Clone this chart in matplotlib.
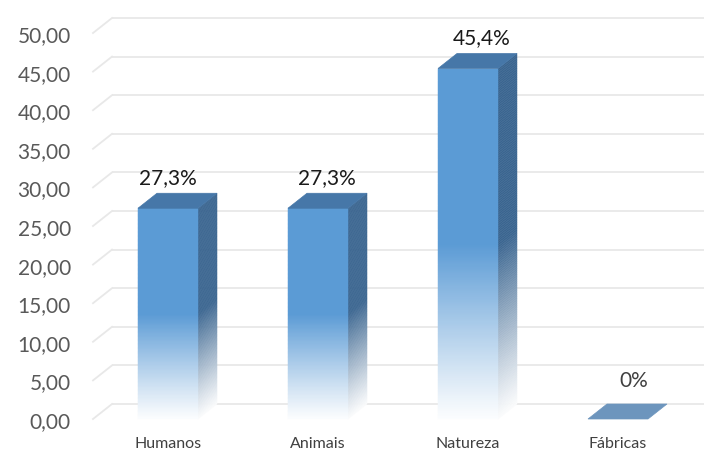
import numpy as np
import matplotlib
matplotlib.use("Agg")
import matplotlib.pyplot as plt
from matplotlib.patches import Polygon
from matplotlib.collections import PolyCollection
from matplotlib.colors import to_rgb

categories = ["Humanos", "Animais", "Natureza", "Fábricas"]
values = [27.3, 27.3, 45.4, 0.0]
value_labels = ["27,3%", "27,3%", "45,4%", "0%"]
yticks = [0, 5, 10, 15, 20, 25, 30, 35, 40, 45, 50]
ytick_labels = ["0,00", "5,00", "10,00", "15,00", "20,00", "25,00",
                "30,00", "35,00", "40,00", "45,00", "50,00"]

# style
plt.rcParams['font.family'] = ['Lato', 'DejaVu Sans']
W, H = 704, 452
front_col = np.array(to_rgb("#5b9bd5"))
side_col = np.array(to_rgb("#3a6590"))
top_col = np.array(to_rgb("#4677a8"))
zero_top_col = "#6d95bd"
white = np.array([1.0, 1.0, 1.0])
grid_col = "#e8e8e8"
depth_px = (19, 15)
bar_w = 0.4
label_off_px = [(0, 16), (9, 16), (14, 16), (16, 24)]
label_cols = ["#1a1a1a", "#1a1a1a", "#1a1a1a", "#404040"]

fig = plt.figure(figsize=(W / 100, H / 100), dpi=100)
ax = fig.add_axes([93 / W, (H - 420) / H, 600 / W, (420 - 34) / H])
ax.set_xlim(-0.5, len(categories) - 0.5)
ax.set_ylim(0, 50)
for s in ax.spines.values():
    s.set_visible(False)
ax.set_facecolor("none")

# depth offset in data units
p0 = ax.transData.transform((0, 0))
inv = ax.transData.inverted()
ox, oy = inv.transform(p0 + np.array(depth_px)) - inv.transform(p0)

# gridlines (back wall + floor slant)
xl, xr = ax.get_xlim()
for v in yticks:
    ax.plot([xl + ox, xr + ox + 1], [v + oy, v + oy], color=grid_col, lw=1.3,
            zorder=1, clip_on=False, solid_capstyle='butt')
    ax.plot([xl, xl + ox], [v, v + oy], color=grid_col, lw=1.3, zorder=1,
            clip_on=False)

def blend(c, t):
    return white * (1 - t) + c * t

N = 160
for i, v in enumerate(values):
    x0, x1 = i - bar_w / 2, i + bar_w / 2
    if v > 0:
        edges = np.linspace(0, v, N + 1)
        front_polys, side_polys, fcols, scols = [], [], [], []
        for a, b in zip(edges[:-1], edges[1:]):
            h = (a + b) / 2
            t = 0.02 + 0.98 * min(h / (0.5 * v), 1.0) ** 1.1
            front_polys.append([(x0, a), (x1, a), (x1, b), (x0, b)])
            side_polys.append([(x1, a), (x1 + ox, a + oy), (x1 + ox, b + oy), (x1, b)])
            fcols.append(blend(front_col, t))
            scols.append(blend(side_col, t))
        ax.add_collection(PolyCollection(side_polys, facecolors=scols,
                                         edgecolors=scols, linewidths=0.3,
                                         zorder=3, clip_on=False))
        ax.add_collection(PolyCollection(front_polys, facecolors=fcols,
                                         edgecolors=fcols, linewidths=0.3,
                                         zorder=4, clip_on=False))
        tc = top_col
    else:
        tc = zero_top_col
    ax.add_patch(Polygon([(x0, v), (x1, v), (x1 + ox, v + oy), (x0 + ox, v + oy)],
                         closed=True, facecolor=tc, edgecolor=tc, lw=0.5,
                         zorder=5, clip_on=False))
    ax.annotate(value_labels[i], (i, v + oy), xytext=label_off_px[i],
                textcoords='offset pixels', ha='center', va='center',
                fontsize=15, color=label_cols[i], zorder=6, annotation_clip=False)

ax.set_yticks(yticks)
ax.set_yticklabels(ytick_labels)
ax.set_xticks(range(len(categories)))
ax.set_xticklabels(categories)
ax.tick_params(axis='y', length=0, pad=16, labelsize=15, labelcolor="#595959")
ax.tick_params(axis='x', length=0, pad=12, labelsize=11.5, labelcolor="#404040")

fig.savefig("out.png", dpi=100)
